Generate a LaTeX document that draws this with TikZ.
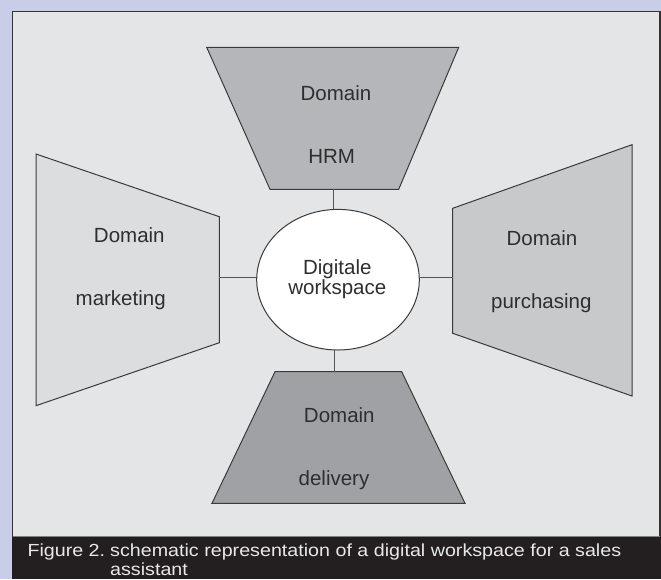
\documentclass[tikz,border=0pt]{standalone}
\usepackage{fontspec}
\setmainfont{Liberation Sans}
\newfontfamily\capfont[FakeStretch=1.125]{Liberation Sans}
\usetikzlibrary{shapes.geometric}
\definecolor{lav}{HTML}{C8CEE8}
\definecolor{panel}{HTML}{E4E5E7}
\definecolor{frameedge}{HTML}{333333}
\definecolor{capbar}{HTML}{231F20}
\definecolor{captxt}{HTML}{E8E8E8}
\definecolor{edgecol}{HTML}{3A3A3A}
\definecolor{conncol}{HTML}{555555}
\definecolor{txtcol}{HTML}{2E2E2E}
\definecolor{hrmfill}{HTML}{B5B6B9}
\definecolor{mktfill}{HTML}{DCDDDF}
\definecolor{purfill}{HTML}{C8C9CB}
\definecolor{delfill}{HTML}{A0A1A4}
\tikzset{
  domshape/.style={draw=edgecol, line width=1pt, line join=miter},
  conn/.style={draw=conncol, line width=1pt},
  lbl/.style={anchor=base, inner sep=0pt, text=txtcol, font=\fontsize{20.5}{24}\selectfont},
  caplbl/.style={anchor=base west, inner sep=0pt, text=captxt, font=\capfont\fontsize{17.5}{20}\selectfont},
}
\begin{document}
\begin{tikzpicture}[x=1pt,y=-1pt]
\useasboundingbox (0,0) rectangle (661,579);
% background
\fill[lav] (0,0) rectangle (661,579);
\fill[panel] (12,11) rectangle (661,537);
\draw[frameedge, line width=1.5pt] (12.5,537) -- (12.5,11.5) -- (660,11.5) -- (660,537);
\draw[gray, line width=0.8pt] (12.5,536.5) -- (660,536.5);
\fill[capbar] (12,537) rectangle (661,579);

% central ellipse
\node[ellipse, fill=white, minimum width=162.6pt, minimum height=140.7pt, inner sep=0pt] (ws) at (338,279.7) {};

% trapezoids
\draw[domshape, fill=hrmfill] (206.7,47.3) -- (458.7,47.3) -- (398.7,189.3) -- (270,189.3) -- cycle;
\draw[domshape, fill=mktfill] (36,154) -- (219.3,216.7) -- (219.3,342.7) -- (36,405.7) -- cycle;
\draw[domshape, fill=purfill] (452.7,208.3) -- (632,144.7) -- (632,396) -- (452.7,333.3) -- cycle;
\draw[domshape, fill=delfill] (275,371.7) -- (401.7,371.7) -- (465,503.3) -- (212,503.3) -- cycle;

\coordinate (hrmB) at (333.7,189.3);
\coordinate (mktR) at (219.3,277.3);
\coordinate (purL) at (452.7,277.3);
\coordinate (delT) at (334,371.7);

% connectors
\draw[conn] (hrmB) -- (hrmB |- ws.north);
\draw[conn] (delT) -- (delT |- ws.south);
\draw[conn] (mktR) -- (mktR -| ws.west);
\draw[conn] (purL) -- (purL -| ws.east);

% ellipse outline on top
\draw[edgecol, line width=1pt] (ws.center) ellipse [x radius=81.3pt, y radius=70.3pt];

% labels
\node[lbl] (hrm1) at (336,100) {Domain};
\node[lbl] (hrm2) at (331.7,163.3) {HRM};
\node[lbl] (mkt1) at (129.3,242) {Domain};
\node[lbl] (mkt2) at (120.7,305.7) {marketing};
\node[lbl] (pur1) at (542,245) {Domain};
\node[lbl] (pur2) at (541.3,308.3) {purchasing};
\node[lbl] (del1) at (339.3,422) {Domain};
\node[lbl] (del2) at (334,485.3) {delivery};
\node[lbl] (ws1) at (337.3,274) {Digitale};
\node[lbl] (ws2) at (337.3,294.3) {workspace};

% caption
\node[caplbl] (cap0) at (27.3,556) {Figure 2.};
\node[caplbl] (cap1) at (110,556) {schematic representation of a digital workspace for a sales};
\node[caplbl] (cap2) at (110,575.5) {assistant};
\end{tikzpicture}
\end{document}
